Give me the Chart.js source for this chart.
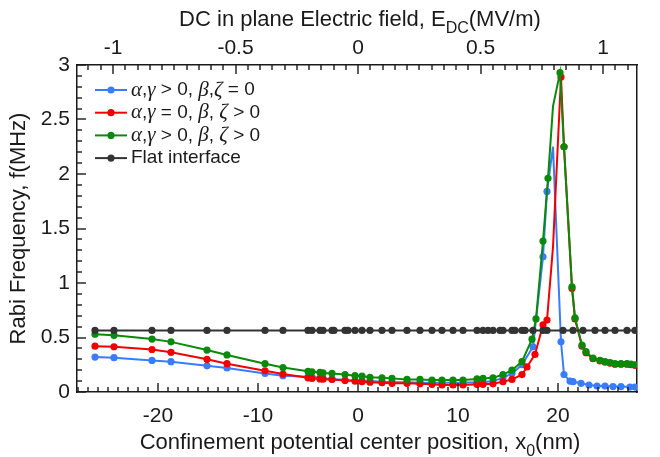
<!DOCTYPE html>
<html lang="en">
<head>
<meta charset="UTF-8">
<title>Rabi frequency vs confinement position</title>
<script src="https://cdn.jsdelivr.net/npm/chart.js"></script>
<style>
  html, body { margin: 0; padding: 0; background: #fff; }
</style>
</head>
<body>
<canvas id="rabiChart" width="660" height="457"></canvas>
<script>
// x0 positions (nm) and Rabi frequency (MHz)
const xBlue = [-26.3, -24.4, -20.6, -18.7, -15.1, -13.1, -9.3, -7.5, -5.0, -4.6, -3.8, -3.5, -2.6, -1.3, -0.3, 0.4, 1.2, 2.4, 3.4, 4.9, 6.2, 7.4, 8.4, 9.5, 10.5, 11.9, 12.5, 13.5, 14.5, 15.4, 16.4, 17.5, 18.5, 18.9, 19.5, 20.3, 20.6, 21.2, 21.5, 22.3, 23.1, 23.9, 24.7, 25.5, 26.3, 27.2, 27.7];
const yBlue = [0.32, 0.315, 0.29, 0.278, 0.24, 0.22, 0.17, 0.15, 0.14, 0.135, 0.13, 0.125, 0.12, 0.11, 0.105, 0.1, 0.1, 0.095, 0.09, 0.09, 0.085, 0.085, 0.085, 0.085, 0.085, 0.09, 0.09, 0.1, 0.13, 0.17, 0.25, 0.415, 1.24, 1.84, 2.25, 0.46, 0.16, 0.1, 0.095, 0.08, 0.064, 0.055, 0.055, 0.05, 0.05, 0.045, 0.045];

const xRed = [-26.3, -24.4, -20.6, -18.7, -15.1, -13.1, -9.3, -7.5, -5.0, -4.6, -3.8, -3.5, -2.6, -1.3, -0.3, 0.4, 1.2, 2.4, 3.4, 4.9, 6.2, 7.4, 8.4, 9.5, 10.5, 11.9, 12.5, 13.5, 14.5, 15.4, 16.4, 16.9, 17.7, 18.5, 18.9, 19.5, 20.3, 20.6, 21.4, 21.7, 22.4, 22.8, 23.5, 24.2, 24.7, 25.2, 25.7, 26.3, 26.9, 27.3, 27.7];
const yRed = [0.42, 0.415, 0.39, 0.364, 0.3, 0.26, 0.195, 0.165, 0.13, 0.125, 0.12, 0.118, 0.115, 0.105, 0.1, 0.095, 0.09, 0.085, 0.08, 0.08, 0.075, 0.07, 0.065, 0.065, 0.065, 0.07, 0.07, 0.075, 0.095, 0.115, 0.16, 0.23, 0.345, 0.615, 0.66, 1.33, 2.89, 2.25, 0.95, 0.67, 0.42, 0.36, 0.305, 0.285, 0.275, 0.265, 0.255, 0.255, 0.255, 0.25, 0.245];

const xGreen = [-26.3, -24.4, -20.6, -18.7, -15.1, -13.1, -9.3, -7.5, -5.0, -4.6, -3.8, -3.5, -2.6, -1.3, -0.3, 0.4, 1.2, 2.4, 3.4, 4.9, 6.2, 7.4, 8.4, 9.5, 10.5, 11.9, 12.5, 13.5, 14.5, 15.4, 16.4, 17.4, 17.8, 18.5, 19.0, 19.5, 20.2, 20.6, 21.4, 21.7, 22.4, 22.8, 23.5, 24.2, 24.7, 25.2, 25.7, 26.3, 26.9, 27.3, 27.7];
const yGreen = [0.53, 0.52, 0.486, 0.46, 0.385, 0.34, 0.26, 0.225, 0.19, 0.185, 0.18, 0.175, 0.17, 0.16, 0.15, 0.145, 0.135, 0.13, 0.125, 0.115, 0.115, 0.11, 0.11, 0.11, 0.11, 0.12, 0.125, 0.13, 0.16, 0.2, 0.28, 0.485, 0.67, 1.385, 1.96, 2.62, 2.93, 2.25, 0.965, 0.68, 0.43, 0.37, 0.31, 0.29, 0.28, 0.27, 0.26, 0.26, 0.26, 0.255, 0.25];

const xFlat = [-26.3, -24.4, -20.6, -18.7, -15.1, -13.1, -9.3, -7.5, -5.0, -4.6, -3.8, -3.5, -2.6, -2.4, -1.3, -1.0, -0.3, 0.4, 1.2, 2.4, 3.4, 4.9, 6.2, 7.4, 8.4, 9.5, 10.5, 11.9, 12.5, 13.0, 13.5, 14.2, 14.5, 15.4, 15.7, 16.4, 16.7, 17.5, 18.5, 18.9, 20.5, 21.5, 22.5, 23.7, 24.7, 25.7, 26.9, 27.7];
const yFlat = [0.565, 0.565, 0.565, 0.565, 0.565, 0.565, 0.565, 0.565, 0.565, 0.565, 0.565, 0.565, 0.565, 0.565, 0.565, 0.565, 0.565, 0.565, 0.565, 0.565, 0.565, 0.565, 0.565, 0.565, 0.565, 0.565, 0.565, 0.565, 0.565, 0.565, 0.565, 0.565, 0.565, 0.565, 0.565, 0.565, 0.565, 0.565, 0.565, 0.565, 0.565, 0.565, 0.565, 0.565, 0.565, 0.565, 0.565, 0.565];

const seriesLabels = ['α,γ > 0, β,ζ = 0', 'α,γ = 0, β, ζ > 0', 'α,γ > 0, β, ζ > 0', 'Flat interface'];
const xTicks = [-20, -10, 0, 10, 20];
const fieldTicks = [-1, -0.5, 0, 0.5, 1];
const yTicks = [0, 0.5, 1, 1.5, 2, 2.5, 3];
const topTitle = ['DC in plane Electric field, E', 'DC', '(MV/m)'];
const bottomTitle = ['Confinement potential center position, x', '0', '(nm)'];

const xMin = -28.1, xMax = 27.9;
const nmPerField = 24.5;      // top axis: 1 MV/m <-> 24.5 nm
const peakVertex = 19.5;      // this point is drawn without a marker in the figure

const SANS = '"Liberation Sans", Arial, sans-serif';
const INK = '#1a1a1a';
const colors = ['#3a7cff', '#f00000', '#0a8a0a', '#333333'];

const pts = (xs, ys) => xs.map((x, i) => ({ x: x, y: ys[i] }));

function series(i, xs, ys, order) {
  return {
    label: seriesLabels[i],
    data: pts(xs, ys),
    borderColor: colors[i],
    backgroundColor: colors[i],
    borderWidth: 2,
    pointRadius: c => (c.raw && c.raw.x === peakVertex ? 0 : 3.6),
    pointBorderWidth: 0,
    pointHoverRadius: 0,
    tension: 0,
    order: order
  };
}

// draws one line of text with a subscript in the middle
function drawSubTitle(ctx, parts, cx, y) {
  const big = '22px ' + SANS, small = '16px ' + SANS;
  ctx.font = big;
  const w0 = ctx.measureText(parts[0]).width, w2 = ctx.measureText(parts[2]).width;
  ctx.font = small;
  const w1 = ctx.measureText(parts[1]).width;
  let x = cx - (w0 + w1 + w2) / 2;
  ctx.textAlign = 'left';
  ctx.textBaseline = 'alphabetic';
  ctx.font = big; ctx.fillText(parts[0], x, y); x += w0;
  ctx.font = small; ctx.fillText(parts[1], x, y + 7); x += w1;
  ctx.font = big; ctx.fillText(parts[2], x, y);
}

// Greek letters in italic serif, the rest in sans
function drawLegendText(ctx, text, x, y) {
  for (const ch of text) {
    ctx.font = /[α-ω]/.test(ch) ? 'italic 21px "Liberation Serif", serif' : '19px ' + SANS;
    ctx.fillText(ch, x, y);
    x += ctx.measureText(ch).width;
  }
}

const decorations = {
  id: 'decorations',
  afterDraw(chart) {
    const ctx = chart.ctx;
    const { left, top, bottom } = chart.chartArea;
    const sx = chart.scales.x, sE = chart.scales.xE, sy = chart.scales.y;
    ctx.save();

    // inward tick marks (long at labelled values)
    ctx.fillStyle = INK;
    for (let i = Math.ceil(sx.min); i <= sx.max; i++) {
      const p = Math.round(sx.getPixelForValue(i));
      const len = i % 10 === 0 ? 9 : 5;
      ctx.fillRect(p - 0.7, bottom - len, 1.4, len);
    }
    for (let i = Math.ceil(sE.min * 20); i <= sE.max * 20; i++) {
      const p = Math.round(sE.getPixelForValue(i / 20));
      const len = i % 10 === 0 ? 9 : 5;
      ctx.fillRect(p - 0.7, top, 1.4, len);
    }
    for (let i = 0; i <= 30; i++) {
      const p = Math.round(sy.getPixelForValue(i / 10));
      const len = i % 5 === 0 ? 9 : 5;
      ctx.fillRect(left, p - 0.7, len, 1.4);
    }

    // axis titles with subscripts
    drawSubTitle(ctx, topTitle, 360, 26);
    drawSubTitle(ctx, bottomTitle, 360, 449);

    // legend in the upper left of the plot
    ctx.textBaseline = 'middle';
    ctx.textAlign = 'left';
    seriesLabels.forEach((label, i) => {
      const y = top + 25 + i * 22.7;
      ctx.strokeStyle = colors[i];
      ctx.fillStyle = colors[i];
      ctx.lineWidth = 2;
      ctx.beginPath();
      ctx.moveTo(left + 18, y); ctx.lineTo(left + 50, y);
      ctx.stroke();
      ctx.beginPath();
      ctx.arc(left + 34, y, 3.6, 0, Math.PI * 2);
      ctx.fill();
      ctx.fillStyle = INK;
      drawLegendText(ctx, label, left + 54, y);
    });
    ctx.restore();
  }
};

const axisBorder = { display: true, color: INK, width: 1.5 };
const tickFont = { family: SANS, size: 21 };

const ctx = document.getElementById('rabiChart').getContext('2d');
new Chart(ctx, {
  type: 'line',
  data: {
    datasets: [
      series(0, xBlue, yBlue, 4),
      series(1, xRed, yRed, 3),
      series(2, xGreen, yGreen, 2),
      series(3, xFlat, yFlat, 1)
    ]
  },
  options: {
    responsive: false,
    animation: false,
    devicePixelRatio: 1,
    layout: { padding: 0 },
    plugins: { legend: { display: false }, tooltip: { enabled: false } },
    scales: {
      x: {
        type: 'linear', position: 'bottom', min: xMin, max: xMax,
        grid: { display: false, drawTicks: false }, border: axisBorder,
        ticks: { font: tickFont, color: INK, padding: 12, maxRotation: 0, callback: v => String(v) },
        afterBuildTicks: s => { s.ticks = xTicks.map(v => ({ value: v })); },
        afterFit: s => { s.height = 65; }
      },
      xE: {
        type: 'linear', position: 'top', display: true,
        min: xMin / nmPerField, max: xMax / nmPerField,
        grid: { display: false, drawTicks: false }, border: axisBorder,
        ticks: { font: tickFont, color: INK, padding: 4, maxRotation: 0, callback: v => String(v) },
        afterBuildTicks: s => { s.ticks = fieldTicks.map(v => ({ value: v })); },
        afterFit: s => { s.height = 65; }
      },
      y: {
        type: 'linear', position: 'left', min: 0, max: 3,
        grid: { display: false, drawTicks: false }, border: axisBorder,
        ticks: { font: tickFont, color: INK, padding: 7, callback: v => String(v) },
        afterBuildTicks: s => { s.ticks = yTicks.map(v => ({ value: v })); },
        title: { display: true, text: 'Rabi Frequency, f(MHz)', color: INK, font: { family: SANS, size: 22 }, padding: { top: 6, bottom: 0 } },
        afterFit: s => { s.width = 77; }
      },
      yR: {
        type: 'linear', position: 'right', display: true, min: 0, max: 3,
        grid: { display: false, drawTicks: false }, border: axisBorder,
        ticks: { display: false },
        afterFit: s => { s.width = 23; }
      }
    }
  },
  plugins: [decorations]
});
</script>
</body>
</html>
